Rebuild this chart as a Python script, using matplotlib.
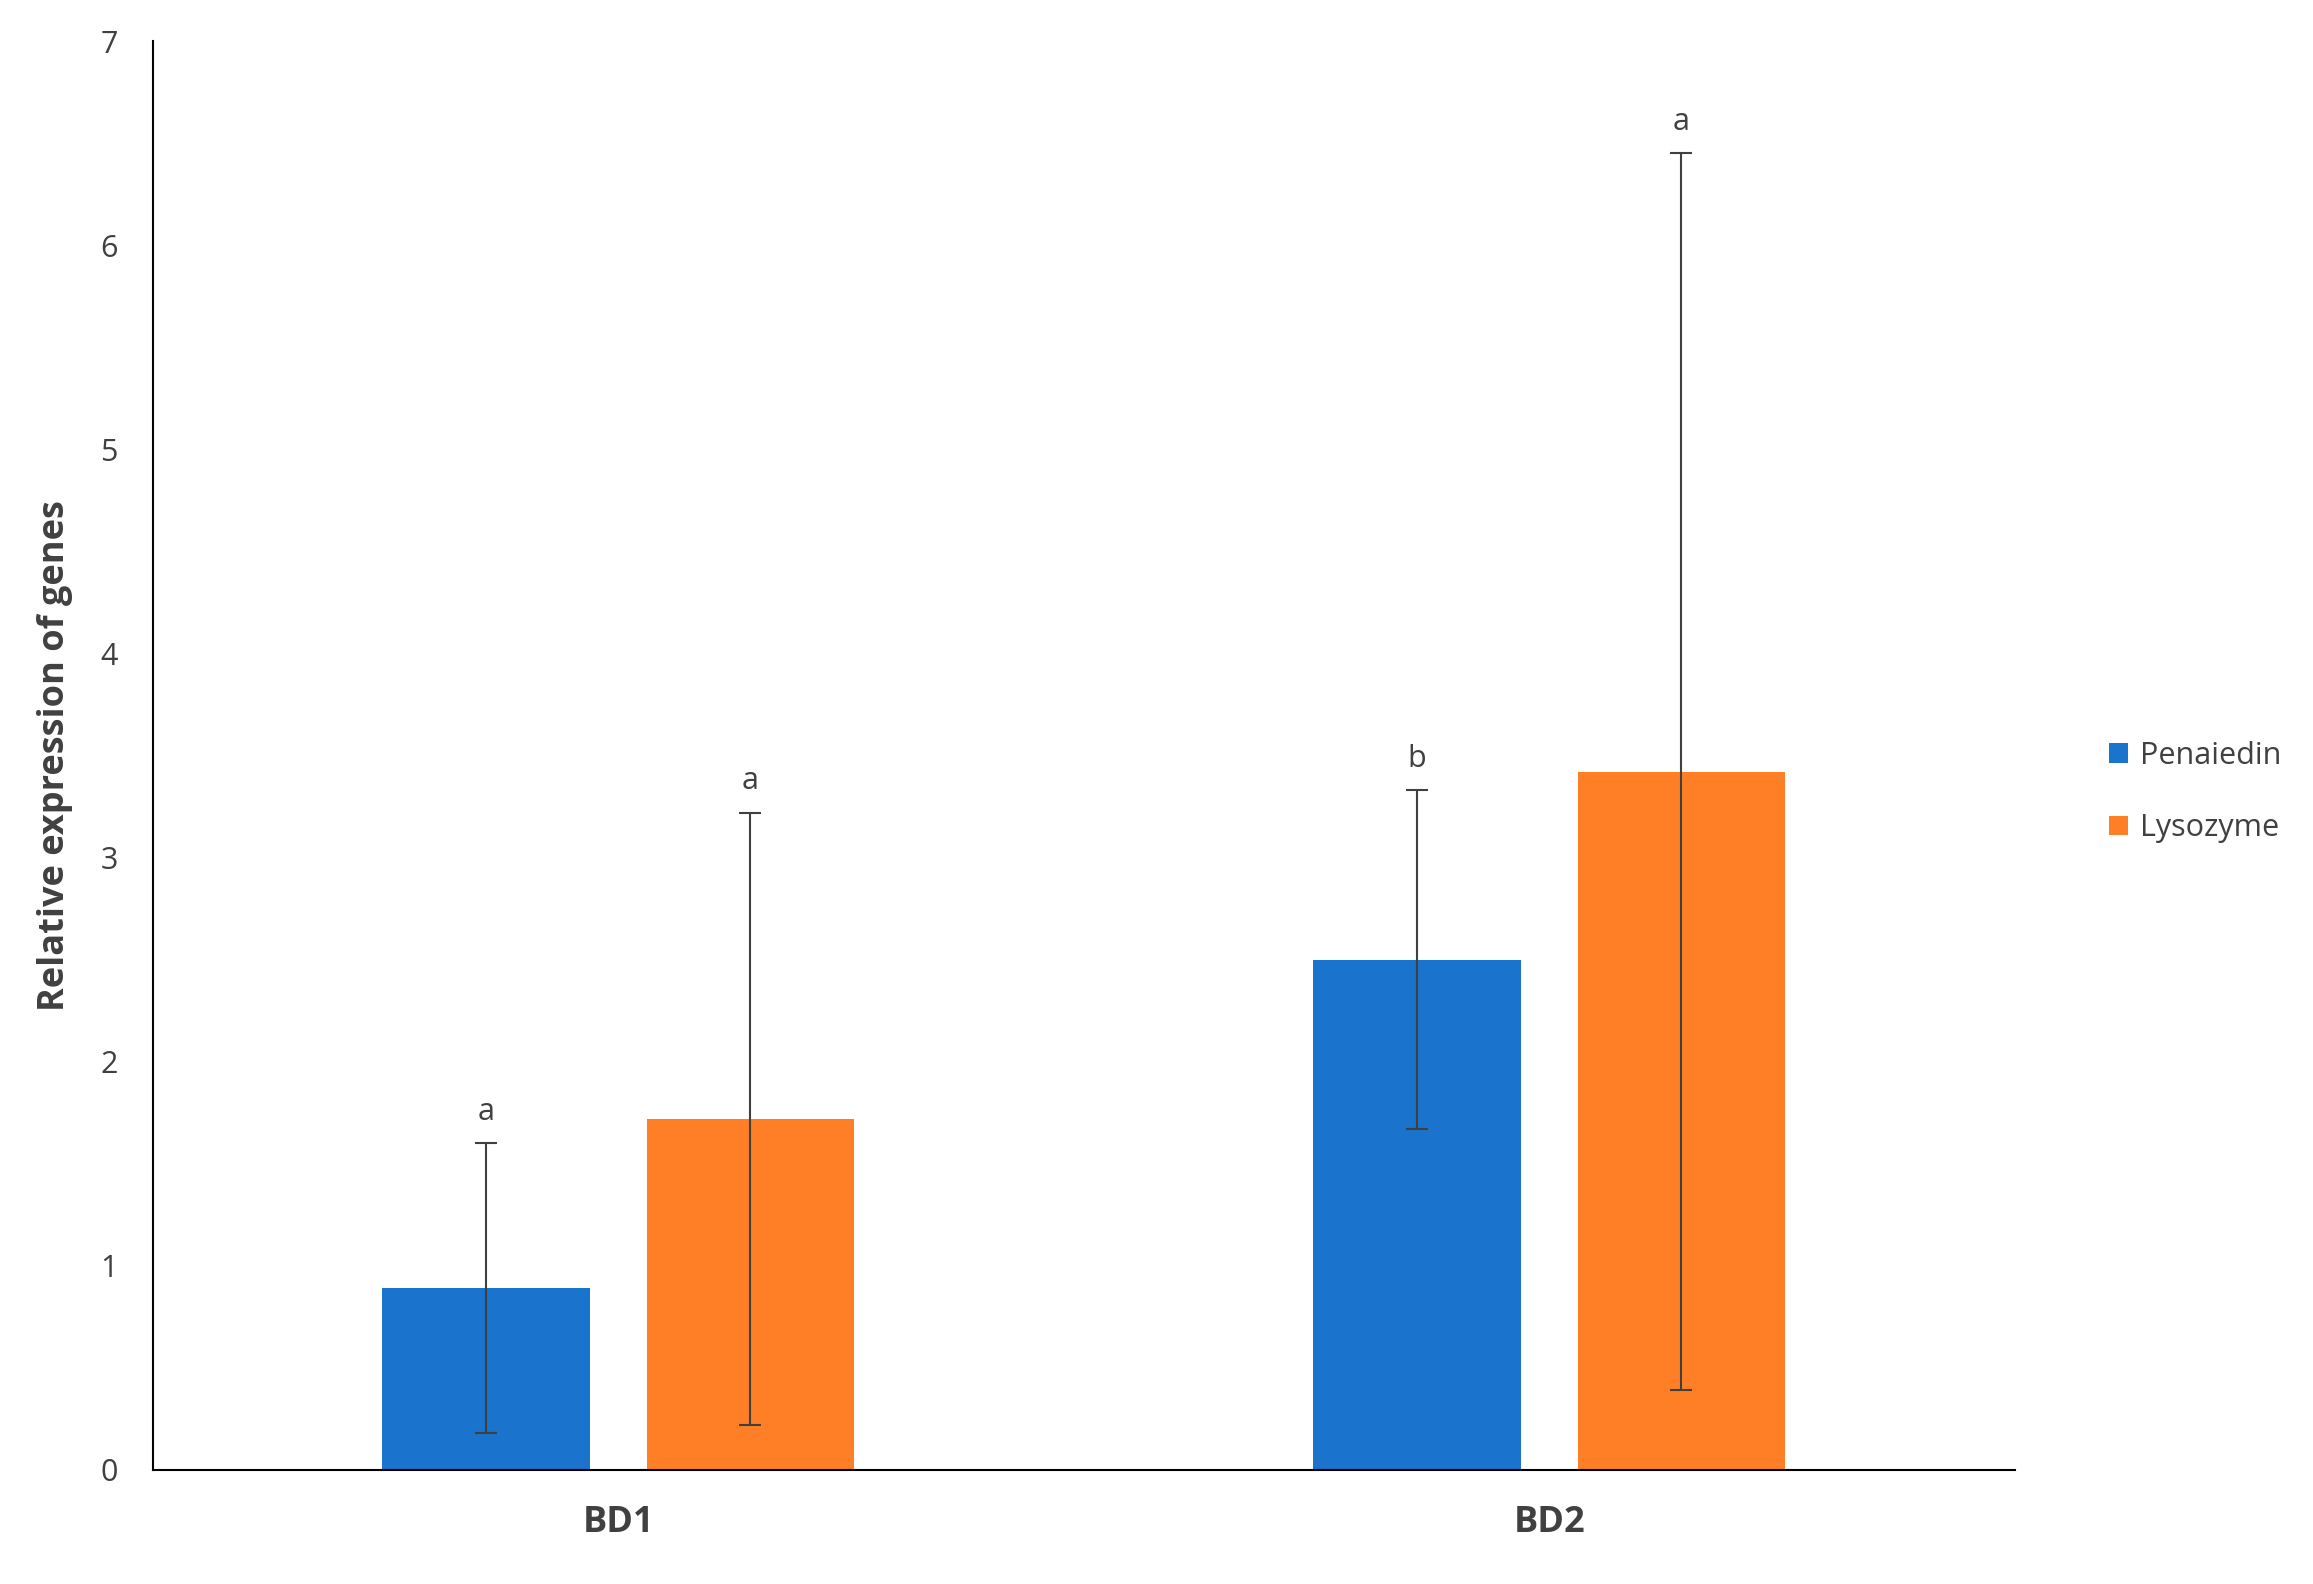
import matplotlib
matplotlib.use("Agg")
import matplotlib.pyplot as plt
import numpy as np

categories = ["BD1", "BD2"]
series = ["Penaiedin", "Lysozyme"]
penaiedin = [0.89, 2.50]
penaiedin_err = [0.71, 0.83]
lysozyme = [1.72, 3.42]
lysozyme_err = [1.50, 3.03]
letters_pen = ["a", "b"]
letters_lys = ["a", "a"]

plt.rcParams['font.family'] = ['Open Sans', 'DejaVu Sans']
fig = plt.figure(figsize=(23.13, 15.84), dpi=100)
ax = fig.add_axes([0.066, 0.072, 0.805, 0.902])
x = np.arange(len(categories))
w = 0.223; off = 0.284
cols = ["#1A73CC", "#FF7F27"]
for vals, errs, lets, o, c, name in [(penaiedin, penaiedin_err, letters_pen, -off, cols[0], series[0]),
                                      (lysozyme, lysozyme_err, letters_lys, off / 1.0 * 0 + 0.0, cols[1], series[1])]:
    pass
specs = [(penaiedin, penaiedin_err, letters_pen, -off / 2 - 0.0, cols[0], series[0]),
         (lysozyme, lysozyme_err, letters_lys, off / 2, cols[1], series[1])]
for vals, errs, lets, o, c, name in specs:
    ax.bar(x + o, vals, w, color=c, label=name, zorder=2)
    ax.errorbar(x + o, vals, yerr=errs, fmt='none', ecolor='#404040', elinewidth=1.5,
                capsize=8, capthick=1.5, zorder=3)
    for xi, v, e, l in zip(x + o, vals, errs, lets):
        ax.text(xi, v + e + 0.08, l, ha='center', va='bottom', fontsize=22, color='#404040')

ax.set_xlim(-0.5, 1.5)
ax.set_ylim(0, 7)
ax.set_yticks(range(0, 8))
ax.set_xticks(x)
ax.set_xticklabels(categories, fontsize=26, fontweight='bold', color='#404040')
ax.tick_params(axis='y', labelsize=22, colors='#404040', length=0, pad=25)
ax.tick_params(axis='x', length=0, pad=25)
for s in ['top', 'right']:
    ax.spines[s].set_visible(False)
ax.spines['left'].set_linewidth(1.5)
ax.spines['bottom'].set_linewidth(1.5)
ax.set_ylabel("Relative expression of genes", fontsize=26, fontweight='bold', color='#404040', labelpad=20)
fig.legend(loc='center left', bbox_to_anchor=(0.9, 0.5), frameon=False, fontsize=22,
           handlelength=0.6, handleheight=0.6, handletextpad=0.4, labelspacing=1.4,
           labelcolor='#404040')
fig.savefig("out.png", dpi=100)
